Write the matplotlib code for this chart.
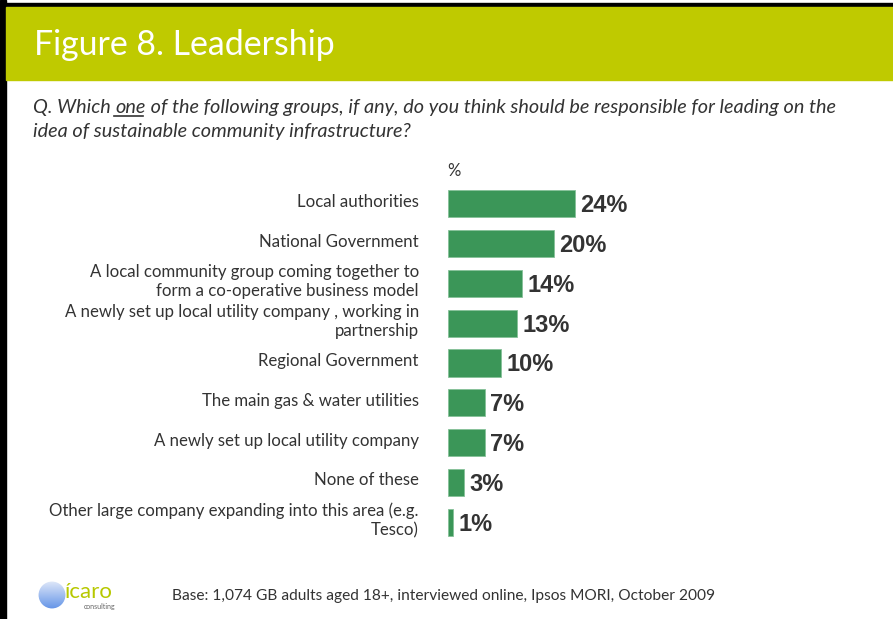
import matplotlib.pyplot as plt
import numpy as np
from matplotlib.patches import Rectangle, Circle

categories = [
    "Local authorities",
    "National Government",
    "A local community group coming together to\nform a co-operative business model",
    "A newly set up local utility company , working in\npartnership",
    "Regional Government",
    "The main gas & water utilities",
    "A newly set up local utility company",
    "None of these",
    "Other large company expanding into this area (e.g.\nTesco)",
]
values = [24, 20, 14, 13, 10, 7, 7, 3, 1]

W, H = 893, 619
fig = plt.figure(figsize=(W / 100, H / 100), dpi=100)
fig.patch.set_facecolor("white")

def px(x, y):
    # pixel (from top-left) -> figure fraction
    return x / W, 1 - y / H

# frame and header band
fig.patches.append(Rectangle((0, 0), 6 / W, 1, transform=fig.transFigure, color="black", zorder=0))
fig.patches.append(Rectangle(px(0, 7), 1, 4 / H, transform=fig.transFigure, color="black", zorder=0))
fig.patches.append(Rectangle(px(6, 80), 1, 73 / H, transform=fig.transFigure, color="#bfca00", zorder=0))

fig.text(*px(34, 45), "Figure 8. Leadership", color="white", fontsize=24.4,
         family="Lato", va="center", ha="left")

# question, with "one" underlined
qfont = dict(family="Lato", style="italic", fontsize=14.3, color="#333333", va="baseline")
renderer = fig.canvas.get_renderer()
x0, ybase = px(33, 113)
t1 = fig.text(x0, ybase, "Q. Which ", **qfont)
bb = t1.get_window_extent(renderer)
x1 = bb.x1 / W
t2 = fig.text(x1, ybase, "one", **qfont)
bb2 = t2.get_window_extent(renderer)
x2 = bb2.x1 / W
fig.lines.append(plt.Line2D([x1 - 0.001, x2 - 0.003], [ybase - 3 / H] * 2, transform=fig.transFigure,
                            color="#333333", lw=1.2))
fig.text(x2, ybase, " of the following groups, if any, do you think should be responsible for leading on the",
         **qfont)
fig.text(*px(33, 137), "idea of sustainable community infrastructure?", **qfont)

# bar chart
ax = fig.add_axes([448 / W, 1 - 542 / H, 265 / W, 358 / H])
y = np.arange(len(values))
ax.barh(y, values, height=0.68, color="#3b9658", edgecolor="#86c199", linewidth=0.6)
ax.set_ylim(len(values) - 0.5, -0.5)
ax.set_xlim(0, 50)
ax.axis("off")

for yi, v in zip(y, values):
    ax.text(v + 1.0, yi + 0.05, f"{v}%", va="center", ha="left", fontsize=17,
            fontweight="bold", family="Liberation Sans", color="#333333")

for yi, lab in zip(y, categories):
    ax.text(-5.5, yi - 0.05, lab, va="center", ha="right", fontsize=12.1, family="Lato",
            color="#333333", linespacing=1.25)

fig.text(*px(447, 171), "%", fontsize=12, family="Lato", color="#333333", va="center")

# footer
fig.text(*px(172, 596), "Base: 1,074 GB adults aged 18+, interviewed online, Ipsos MORI, October 2009",
         fontsize=11.2, family="Lato", color="#333333", va="center")

# logo
lax = fig.add_axes([36 / W, 1 - 611 / H, 32 / W, 32 / H])
grad = np.linspace(0, 1, 100)[:, None] * np.ones((1, 100))
img = lax.imshow(grad, cmap=plt.matplotlib.colors.LinearSegmentedColormap.from_list(
    "g", ["#e8eefa", "#5b8ee6"]), extent=[0, 1, 0, 1], origin="upper", aspect="auto")
circ = Circle((0.5, 0.5), 0.42, transform=lax.transData)
img.set_clip_path(circ)
lax.set_xlim(0, 1)
lax.set_ylim(0, 1)
lax.axis("off")
fig.text(*px(65, 592), "ícaro", fontsize=16, family="Lato", color="#b7c800", va="center")
fig.text(*px(84, 606), "consulting", fontsize=5, family="Lato", color="#666666", va="center")

fig.savefig("out.png", dpi=100)
